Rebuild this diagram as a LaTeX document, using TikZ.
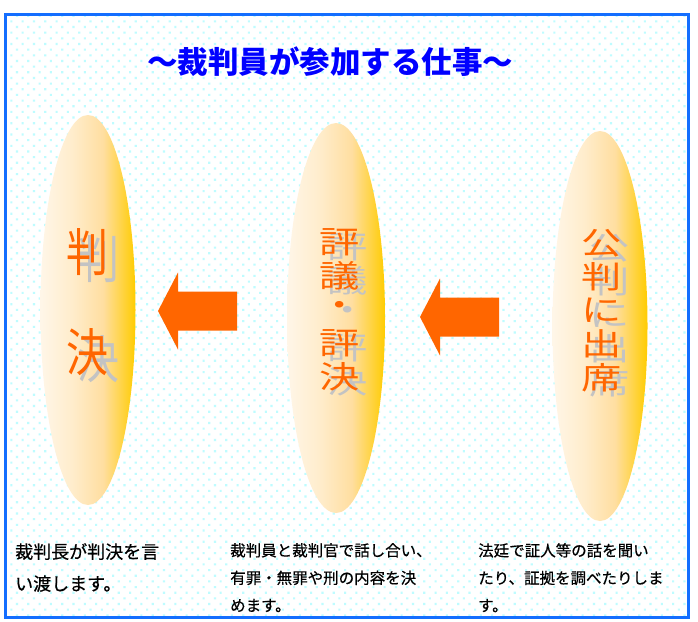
\documentclass[tikz,border=0pt]{standalone}
\usepackage{fontspec}
\usepackage{graphicx}
\setmainfont{Noto Sans CJK JP}
\newfontfamily\notefont[FakeBold=0.5]{Noto Sans CJK JP}
\usetikzlibrary{shapes.geometric,patterns.meta}
\definecolor{frameBlue}{RGB}{20,110,255}
\definecolor{titleBlue}{RGB}{0,0,255}
\definecolor{dotCyan}{RGB}{190,252,255}
\definecolor{ovalGold}{RGB}{255,204,0}
\definecolor{ovalMid}{RGB}{255,222,160}
\definecolor{ovalCream}{RGB}{255,246,232}
\definecolor{courtOrange}{RGB}{255,102,0}
\definecolor{shadowGray}{RGB}{195,195,195}
\pgfdeclarehorizontalshading{ovalshade}{100bp}{color(0bp)=(ovalCream); color(25bp)=(ovalCream);
    color(42bp)=(ovalCream!60!ovalMid); color(58bp)=(ovalMid); color(75bp)=(ovalGold); color(100bp)=(ovalGold)}

\begin{document}
\begin{tikzpicture}[x=1pt,y=-1pt,
    oval/.style={ellipse, minimum width=95pt, minimum height=390pt, inner sep=0pt,
        shading=ovalshade, shading angle=0},
    ovalchar/.style={inner sep=0pt, text=courtOrange},
    charshadow/.style={inner sep=0pt, text=shadowGray},
    note/.style={anchor=north west, inner sep=0pt, align=left, text=black}]
    \useasboundingbox (0,0) rectangle (698,621);

    % Frame with dotted background
    \fill[white] (0,0) rectangle (698,621);
    \fill[pattern={Dots[distance=8pt, angle=45, radius=1.5pt]}, pattern color=dotCyan] (5.5,14) rectangle (688,617.5);
    \draw[line width=3pt, frameBlue] (5.5,14) rectangle (688,617.5);

    % Title
    \node[font=\fontsize{30.5pt}{30.5pt}\selectfont\bfseries, text=titleBlue] (title) at (330,62) {～裁判員が参加する仕事～};

    % Ovals
    \node[oval] (judgement) at (88,310) {};
    \node[oval, minimum width=98pt] (deliberation) at (336,318) {};
    \node[oval] (trial) at (600,326) {};

    % Oval texts
    \foreach \ch [count=\k] in {判,決} {
        \node[charshadow, font=\fontsize{42pt}{42pt}\selectfont] at (98,{259+100*(\k-1)}) {\scalebox{1}[1.22]{\ch}};
        \node[ovalchar, font=\fontsize{42pt}{42pt}\selectfont] (j\k) at (87,{252+100*(\k-1)}) {\scalebox{1}[1.22]{\ch}};
    }
    \foreach \ch [count=\k] in {評,議,・,評,決} {
        \node[charshadow, font=\fontsize{31pt}{31pt}\selectfont] at (348,{247+33.7*(\k-1)}) {\scalebox{1.3}[1]{\ch}};
        \node[ovalchar, font=\fontsize{31pt}{31pt}\selectfont] (d\k) at (340,{242+33.7*(\k-1)}) {\scalebox{1.3}[1]{\ch}};
    }
    \foreach \ch [count=\k] in {公,判,に,出,席} {
        \node[charshadow, font=\fontsize{31pt}{31pt}\selectfont] at (610,{248+33.6*(\k-1)}) {\scalebox{1.3}[1]{\ch}};
        \node[ovalchar, font=\fontsize{31pt}{31pt}\selectfont] (t\k) at (602,{243+33.6*(\k-1)}) {\scalebox{1.3}[1]{\ch}};
    }

    % Block arrows
    \coordinate (tipA) at (158,311);
    \coordinate (tipB) at (420,317);
    \foreach \tip in {tipA,tipB} {
        \fill[courtOrange] (\tip) -- ++(20,-38.5) -- ++(0,19) -- ++(59,0) -- ++(0,39)
            -- ++(-59,0) -- ++(0,19) -- cycle;
    }

    % Notes
    \node[note, font=\notefont\fontsize{18pt}{32pt}\selectfont] (noteJudgement) at (15,543) {裁判長が判決を言\\い渡します。};
    \node[note, font=\notefont\fontsize{15.5pt}{27.5pt}\selectfont] (noteDeliberation) at (230,543) {裁判員と裁判官で話し合い、\\有罪・無罪や刑の内容を決\\めます。};
    \node[note, font=\notefont\fontsize{15.5pt}{27.5pt}\selectfont] (noteTrial) at (478,543) {法廷で証人等の話を聞い\\たり、証拠を調べたりしま\\す。};
\end{tikzpicture}
\end{document}
